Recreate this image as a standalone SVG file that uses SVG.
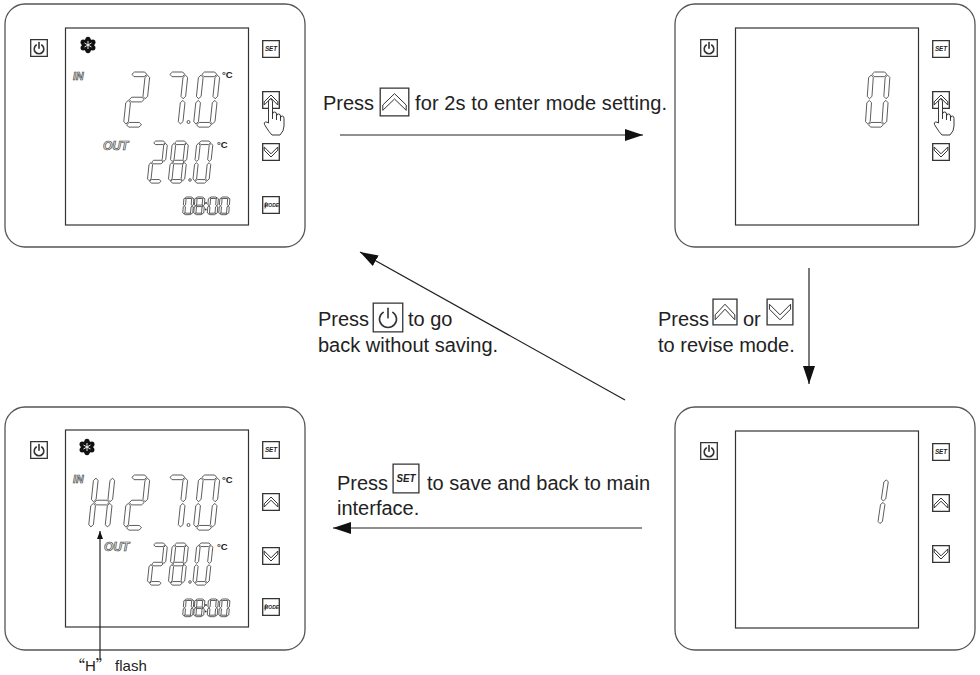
<svg xmlns="http://www.w3.org/2000/svg" xmlns:xlink="http://www.w3.org/1999/xlink" width="980" height="675" viewBox="0 0 980 675">
  <style>
    .frame{fill:#fff;stroke:#555;stroke-width:1.3}
    .lcd{fill:#fff;stroke:#333;stroke-width:1.2}
    .seg{fill:#fff;stroke:#333;stroke-width:0.8;vector-effect:non-scaling-stroke}
    .btn{fill:#fff;stroke:#333;stroke-width:1.3;vector-effect:non-scaling-stroke}
    .glyph{fill:none;stroke:#333;stroke-width:1;vector-effect:non-scaling-stroke}
    .pwr{fill:none;stroke:#333;stroke-width:1.6;stroke-linecap:round;vector-effect:non-scaling-stroke}
    .key{font-family:"Liberation Sans",Arial,sans-serif;font-weight:bold;font-style:italic;fill:#222}
    .tag{font-family:"Liberation Sans",Arial,sans-serif;font-weight:bold;font-style:italic;fill:#e6e6e6;stroke:#333;stroke-width:0.6}
    .unit{font-family:"Liberation Sans",Arial,sans-serif;font-weight:bold;font-size:9.5px;fill:#222}
    .lbl{font-family:"Liberation Sans",Arial,sans-serif;font-size:20px;fill:#222}
    .note{font-family:"Liberation Sans",Arial,sans-serif;font-size:15px;fill:#222}
    .cjk{font-family:"Noto Sans CJK SC","Liberation Sans",sans-serif}
    .conn{fill:none;stroke:#222;stroke-width:1.2}
    .hand{fill:#fff;stroke:#222;stroke-width:0.9;stroke-linejoin:round}
    .dot{fill:#fff;stroke:#333;stroke-width:0.8}
  </style>
  <defs>
    <!-- seven-segment template, 20 x 52 -->
    <path id="sa" class="seg" d="M3,2.2 L5.2,0 L14.8,0 L17,2.2 L14.8,4.4 L5.2,4.4 Z"/>
    <path id="sb" class="seg" d="M17.8,3 L20,5.2 L20,23 L17.8,25.2 L15.6,23 L15.6,5.2 Z"/>
    <path id="sc" class="seg" d="M17.8,26.8 L20,29 L20,46.8 L17.8,49 L15.6,46.8 L15.6,29 Z"/>
    <path id="sd" class="seg" d="M3,49.8 L5.2,47.6 L14.8,47.6 L17,49.8 L14.8,52 L5.2,52 Z"/>
    <path id="se" class="seg" d="M2.2,26.8 L4.4,29 L4.4,46.8 L2.2,49 L0,46.8 L0,29 Z"/>
    <path id="sf" class="seg" d="M2.2,3 L4.4,5.2 L4.4,23 L2.2,25.2 L0,23 L0,5.2 Z"/>
    <path id="sg" class="seg" d="M3,26 L5.2,23.8 L14.8,23.8 L17,26 L14.8,28.2 L5.2,28.2 Z"/>
    <g id="d0"><use href="#sa"/><use href="#sb"/><use href="#sc"/><use href="#sd"/><use href="#se"/><use href="#sf"/></g>
    <g id="d1"><use href="#sb"/><use href="#sc"/></g>
    <g id="d2"><use href="#sa"/><use href="#sb"/><use href="#sg"/><use href="#se"/><use href="#sd"/></g>
    <g id="d7"><use href="#sa"/><use href="#sb"/><use href="#sc"/></g>
    <g id="d8"><use href="#sa"/><use href="#sb"/><use href="#sc"/><use href="#sd"/><use href="#se"/><use href="#sf"/><use href="#sg"/></g>
    <g id="dH"><use href="#sb"/><use href="#sc"/><use href="#se"/><use href="#sf"/><use href="#sg"/></g>

    <!-- key icons -->
    <symbol id="ico-power" viewBox="0 0 18 18" preserveAspectRatio="none">
      <rect class="btn" x="0.7" y="0.7" width="16.6" height="16.6"/>
      <path class="pwr" d="M6.3,6 A4.8,4.8 0 1 0 11.7,6"/>
      <path class="pwr" d="M9,3.6 V9.2"/>
    </symbol>
    <symbol id="ico-set" viewBox="0 0 18 18" preserveAspectRatio="none">
      <rect class="btn" x="0.7" y="0.7" width="16.6" height="16.6"/>
      <text class="key" x="9" y="11.3" font-size="6.3" text-anchor="middle">SET</text>
    </symbol>
    <symbol id="ico-up" viewBox="0 0 18 18" preserveAspectRatio="none">
      <rect class="btn" x="0.7" y="0.7" width="16.6" height="16.6"/>
      <path class="glyph" d="M2.2,10.8 L9,4 L15.8,10.8 L15.8,14 L9,7.2 L2.2,14 Z"/>
    </symbol>
    <symbol id="ico-down" viewBox="0 0 18 18" preserveAspectRatio="none">
      <rect class="btn" x="0.7" y="0.7" width="16.6" height="16.6"/>
      <path class="glyph" d="M2.2,4 L9,10.8 L15.8,4 L15.8,7.2 L9,14 L2.2,7.2 Z"/>
    </symbol>
    <symbol id="ico-mode" viewBox="0 0 18 18" preserveAspectRatio="none">
      <rect class="btn" x="0.7" y="0.7" width="16.6" height="16.6"/>
      <text class="key" x="9.6" y="11" font-size="5" text-anchor="middle">MODE</text>
      <path class="glyph" d="M3,12.5 L4.2,6"/>
    </symbol>

    <!-- snowflake indicator -->
    <g id="snow">
      <circle r="6.3" fill="#111"/>
      <circle cx="0" cy="-5.6" r="2.6" fill="#111"/>
      <circle cx="4.85" cy="-2.8" r="2.6" fill="#111"/>
      <circle cx="4.85" cy="2.8" r="2.6" fill="#111"/>
      <circle cx="0" cy="5.6" r="2.6" fill="#111"/>
      <circle cx="-4.85" cy="2.8" r="2.6" fill="#111"/>
      <circle cx="-4.85" cy="-2.8" r="2.6" fill="#111"/>
      <path d="M0,-4 V4 M-3.5,-2 L3.5,2 M-3.5,2 L3.5,-2" stroke="#fff" stroke-width="0.9"/>
    </g>

    <!-- pointing hand -->
    <g id="hand">
      <path class="hand" d="M268.5,123 L268.5,102 Q268.5,99 270.5,99 Q272.5,99 272.5,102 L272.5,114 Q272.5,112 274.5,112 Q276.5,112 276.5,114 L276.5,116 Q276.5,114 278.5,114 Q280.5,114 280.5,116 L280.5,118 Q280.5,116 282.3,116 Q284,116 284,118.5 L284,126 Q284,131 280,135 L272,135 Q269,132 266,127 L264.5,124.5 Q263.5,122.5 265.5,122 Q267,121.8 268.5,123 Z"/>
      <path class="hand" fill="none" d="M272.5,114 V119 M276.5,116 V120 M280.5,118 V121"/>
    </g>

    <marker id="ah" viewBox="0 0 18 12" refX="18" refY="6" markerWidth="18" markerHeight="12" markerUnits="userSpaceOnUse" orient="auto">
      <path d="M0,0 L18,6 L0,12 Z" fill="#111"/>
    </marker>
    <marker id="ah-small" viewBox="0 0 8 6" refX="8" refY="3" markerWidth="8" markerHeight="6" markerUnits="userSpaceOnUse" orient="auto">
      <path d="M0,0 L8,3 L0,6 Z" fill="#111"/>
    </marker>
  </defs>

  <!-- main screen: 27.0 / 28.0 -->
  <g id="panel-main">
    <rect class="frame" x="5" y="4" width="300" height="243" rx="20"/>
    <rect class="lcd" x="65.5" y="28" width="183" height="197"/>
    <use href="#ico-power" x="30" y="39" width="18" height="18"/>
    <use href="#ico-set" x="262" y="40" width="18" height="18"/>
    <use href="#ico-up" x="262" y="91" width="18" height="18"/>
    <use href="#ico-down" x="262" y="143" width="18" height="18"/>
    <use href="#ico-mode" x="262" y="196" width="18" height="18"/>
    <use href="#hand"/>
    <use href="#snow" x="88" y="45"/>
    <text class="tag" x="73" y="80" font-size="10.5">IN</text>
    <use href="#d2" transform="translate(129,72) scale(1.06) skewX(-6)"/>
    <use href="#d7" transform="translate(167,72) scale(1.06) skewX(-6)"/>
    <circle class="dot" cx="188.5" cy="122" r="1.5"/>
    <use href="#d0" transform="translate(199,72) scale(1.06) skewX(-6)"/>
    <text class="unit" x="222" y="78">°C</text>
    <text class="tag" x="103" y="150" font-size="12">OUT</text>
    <use href="#d2" transform="translate(151.5,141) scale(0.81) skewX(-6)"/>
    <use href="#d8" transform="translate(172.5,141) scale(0.81) skewX(-6)"/>
    <circle class="dot" cx="190" cy="180" r="1.3"/>
    <use href="#d0" transform="translate(197,141) scale(0.81) skewX(-6)"/>
    <text class="unit" x="217" y="148">°C</text>
    <use href="#d0" transform="translate(184,197) scale(0.5,0.34) skewX(-3)"/>
    <use href="#d8" transform="translate(195,197) scale(0.5,0.34) skewX(-3)"/>
    <circle cx="206" cy="203" r="0.9" fill="#333"/>
    <circle cx="205.7" cy="209.5" r="0.9" fill="#333"/>
    <use href="#d0" transform="translate(208.5,197) scale(0.5,0.34) skewX(-3)"/>
    <use href="#d0" transform="translate(220,197) scale(0.5,0.34) skewX(-3)"/>
  </g>

  <!-- mode setting: 0 -->
  <g id="panel-mode0" transform="translate(670,0)">
    <rect class="frame" x="5" y="4" width="300" height="243" rx="20"/>
    <rect class="lcd" x="65.5" y="28" width="183" height="197"/>
    <use href="#ico-power" x="30" y="39" width="18" height="18"/>
    <use href="#ico-set" x="262" y="40" width="18" height="18"/>
    <use href="#ico-up" x="262" y="91" width="18" height="18"/>
    <use href="#ico-down" x="262" y="143" width="18" height="18"/>
    <use href="#hand"/>
    <use href="#d0" transform="translate(199,72) scale(1.06) skewX(-4)"/>
  </g>

  <!-- mode setting: 1 -->
  <g id="panel-mode1" transform="translate(670,403)">
    <rect class="frame" x="5" y="4" width="300" height="243" rx="20"/>
    <rect class="lcd" x="65.5" y="28" width="183" height="197"/>
    <use href="#ico-power" x="30" y="39" width="18" height="18"/>
    <use href="#ico-set" x="262" y="40" width="18" height="18"/>
    <use href="#ico-up" x="262" y="91" width="18" height="18"/>
    <use href="#ico-down" x="262" y="142" width="18" height="18"/>
    <use href="#d1" transform="translate(199,74) scale(1.0,0.95) skewX(-8)"/>
  </g>

  <!-- saved: H flashing -->
  <g id="panel-saved" transform="translate(0,403)">
    <rect class="frame" x="5" y="4" width="300" height="243" rx="20"/>
    <rect class="lcd" x="65.5" y="27" width="183" height="197"/>
    <use href="#ico-power" x="30" y="38" width="18" height="18"/>
    <use href="#ico-set" x="262" y="38" width="18" height="18"/>
    <use href="#ico-up" x="262" y="90" width="18" height="18"/>
    <use href="#ico-down" x="262" y="144" width="18" height="18"/>
    <use href="#ico-mode" x="262" y="195" width="18" height="18"/>
    <use href="#snow" x="87" y="44"/>
    <text class="tag" x="73" y="80" font-size="10.5">IN</text>
    <use href="#dH" transform="translate(94,72) scale(1.06) skewX(-6)"/>
    <use href="#d2" transform="translate(129,72) scale(1.06) skewX(-6)"/>
    <use href="#d7" transform="translate(167,72) scale(1.06) skewX(-6)"/>
    <circle class="dot" cx="188.5" cy="122" r="1.5"/>
    <use href="#d0" transform="translate(199,72) scale(1.06) skewX(-6)"/>
    <text class="unit" x="222" y="80">°C</text>
    <text class="tag" x="104" y="148" font-size="12">OUT</text>
    <use href="#d2" transform="translate(151.5,140) scale(0.81) skewX(-6)"/>
    <use href="#d8" transform="translate(172.5,140) scale(0.81) skewX(-6)"/>
    <circle class="dot" cx="190" cy="179" r="1.3"/>
    <use href="#d0" transform="translate(197,140) scale(0.81) skewX(-6)"/>
    <text class="unit" x="217" y="147">°C</text>
    <use href="#d0" transform="translate(184,196) scale(0.5,0.34) skewX(-3)"/>
    <use href="#d8" transform="translate(195,196) scale(0.5,0.34) skewX(-3)"/>
    <circle cx="206" cy="202" r="0.9" fill="#333"/>
    <circle cx="205.7" cy="208.5" r="0.9" fill="#333"/>
    <use href="#d0" transform="translate(208.5,196) scale(0.5,0.34) skewX(-3)"/>
    <use href="#d0" transform="translate(220,196) scale(0.5,0.34) skewX(-3)"/>
  </g>

  <!-- transitions -->
  <g id="connectors">
    <path class="conn" d="M340,135 H643" marker-end="url(#ah)"/>
    <path class="conn" d="M809,268 V384" marker-end="url(#ah)"/>
    <path class="conn" d="M625,400 L360,252" marker-end="url(#ah)"/>
    <path class="conn" d="M642,528 H333" marker-end="url(#ah)"/>
    <path class="conn" d="M100,658 V531" marker-end="url(#ah-small)"/>
  </g>

  <!-- transition labels -->
  <g id="label-enter">
    <text class="lbl" x="323" y="110">Press</text>
    <use href="#ico-up" x="379" y="87" width="31" height="30"/>
    <text class="lbl" x="415" y="110" textLength="252" lengthAdjust="spacing">for 2s to enter mode setting.</text>
  </g>
  <g id="label-revise">
    <text class="lbl" x="658" y="326">Press</text>
    <use href="#ico-up" x="712" y="298" width="26" height="28"/>
    <text class="lbl" x="743" y="326">or</text>
    <use href="#ico-down" x="766" y="298" width="28" height="28"/>
    <text class="lbl" x="658" y="352">to revise mode.</text>
  </g>
  <g id="label-cancel">
    <text class="lbl" x="318" y="326">Press</text>
    <use href="#ico-power" x="372" y="302" width="32" height="31"/>
    <text class="lbl" x="408" y="326">to go</text>
    <text class="lbl" x="318" y="352">back without saving.</text>
  </g>
  <g id="label-save">
    <text class="lbl" x="337" y="490">Press</text>
    <use href="#ico-set" x="392" y="463" width="28" height="31"/>
    <text class="lbl" x="427" y="490" textLength="223" lengthAdjust="spacing">to save and back to main</text>
    <text class="lbl" x="337" y="515">interface.</text>
  </g>
  <g id="label-flash">
    <text class="note" x="70" y="671"><tspan class="cjk">“</tspan>H<tspan class="cjk">”</tspan> flash</text>
  </g>
</svg>
